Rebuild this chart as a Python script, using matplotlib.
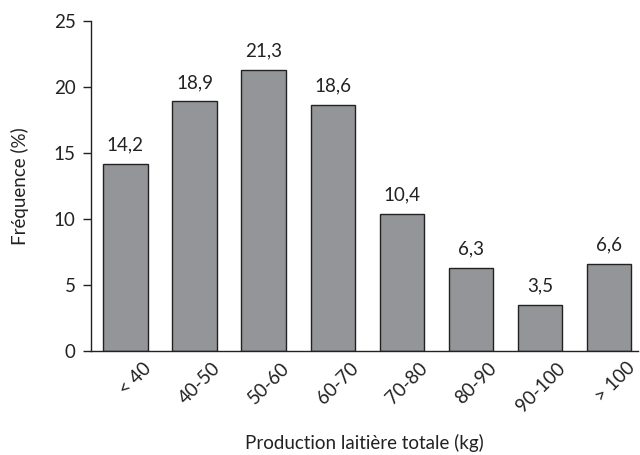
import matplotlib.pyplot as plt
from matplotlib.transforms import ScaledTranslation

plt.rcParams['font.family'] = ['Lato', 'DejaVu Sans']

# Classes de production laitière et fréquences (%)
classes = ['< 40', '40-50', '50-60', '60-70', '70-80', '80-90', '90-100', '> 100']
frequences = [14.2, 18.9, 21.3, 18.6, 10.4, 6.3, 3.5, 6.6]

fig = plt.figure(figsize=(6.4, 4.55), dpi=100)
ax = fig.add_axes([0.142, 0.2286, 0.855, 0.7254])

x = range(len(classes))
bars = ax.bar(x, frequences, width=0.64, color='#939598', edgecolor='#222222', linewidth=1.0)

for xi, v in zip(x, frequences):
    ax.text(xi, v + 0.8, f"{v:.1f}".replace('.', ','), ha='center', va='bottom',
            fontsize=13.5, color='#222222')

ax.set_xlim(-0.5, 7.42)
ax.set_ylim(0, 25)
ax.set_yticks([0, 5, 10, 15, 20, 25])
ax.set_xticks(list(x))
ax.set_xticklabels(classes, rotation=45, ha='right', va='top', rotation_mode='anchor',
                   fontsize=13.5, color='#222222')
ax.tick_params(axis='x', length=0, pad=6)
ax.tick_params(axis='y', labelsize=13.5, labelcolor='#222222', length=6, width=1, color='#222222', pad=5)

# décaler les étiquettes inclinées vers la droite
shift = ScaledTranslation(0.17, 0, fig.dpi_scale_trans)
for lab in ax.get_xticklabels():
    lab.set_transform(lab.get_transform() + shift)

for side in ['top', 'right']:
    ax.spines[side].set_visible(False)
for side in ['left', 'bottom']:
    ax.spines[side].set_color('#222222')
    ax.spines[side].set_linewidth(1)

ax.set_ylabel('Fréquence (%)', fontsize=13.5, color='#222222')
ax.yaxis.set_label_coords(-0.113, 0.5)
ax.set_xlabel('Production laitière totale (kg)', fontsize=13.5, color='#222222')
ax.xaxis.set_label_coords(0.5, -0.25)

fig.savefig('out.png', dpi=100)
